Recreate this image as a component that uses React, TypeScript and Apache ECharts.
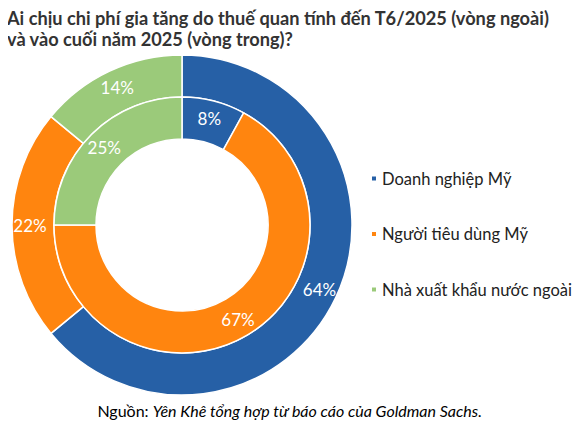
import { useEffect, useRef } from 'react';
import * as echarts from 'echarts';

// Who bears the extra cost of tariffs
const categories = ['Doanh nghiệp Mỹ', 'Người tiêu dùng Mỹ', 'Nhà xuất khẩu nước ngoài'];
const outerValues = [64, 22, 14]; // through June 2025
const innerValues = [8, 67, 25]; // end of 2025
const colors = ['#2660A6', '#FF850F', '#9BCA7A'];

const titleLines = [
  'Ai chịu chi phí gia tăng do thuế quan tính đến T6/2025 (vòng ngoài)',
  'và vào cuối năm 2025 (vòng trong)?',
];

const FONT = 'Lato, "Noto Sans", sans-serif';

export default function App() {
  const chartRef = useRef<HTMLDivElement>(null);

  useEffect(() => {
    if (!chartRef.current) return;
    const chart = echarts.init(chartRef.current, undefined, { renderer: 'svg' });

    const ringData = (values: number[]) =>
      values.map((v, i) => ({
        name: categories[i],
        value: v,
        itemStyle: { color: colors[i] },
      }));

    const ringLabel = {
      show: true,
      position: 'inside' as const,
      color: '#fff',
      fontSize: 17,
      fontFamily: FONT,
      formatter: '{c}%',
    };

    chart.setOption({
      animation: false,
      backgroundColor: '#fff',
      title: {
        text: titleLines.join('\n'),
        left: 2,
        top: 2,
        textStyle: {
          fontFamily: FONT,
          fontSize: 18.2,
          fontWeight: 'bold',
          color: '#333',
          lineHeight: 21,
        },
      },
      legend: {
        orient: 'vertical',
        left: 370,
        top: 170,
        padding: 0,
        icon: 'rect',
        itemWidth: 6,
        itemHeight: 6,
        itemGap: 38.5,
        data: categories,
        textStyle: {
          fontFamily: FONT,
          fontSize: 16.5,
          lineHeight: 17,
          color: '#222',
        },
      },
      series: [
        {
          name: 'T6/2025',
          type: 'pie',
          center: [182, 225],
          radius: [128, 170],
          startAngle: 90,
          clockwise: true,
          silent: true,
          itemStyle: { borderColor: '#fff', borderWidth: 1.5 },
          label: ringLabel,
          labelLine: { show: false },
          data: ringData(outerValues),
        },
        {
          name: 'Cuối 2025',
          type: 'pie',
          center: [182, 225],
          radius: [86, 128],
          startAngle: 90,
          clockwise: true,
          silent: true,
          itemStyle: { borderColor: '#fff', borderWidth: 1.5 },
          label: ringLabel,
          labelLine: { show: false },
          data: ringData(innerValues),
        },
      ],
      graphic: [
        {
          type: 'text',
          left: 'center',
          top: 402,
          style: {
            text: '{n|Nguồn: }{i|Yên Khê tổng hợp từ báo cáo của Goldman Sachs.}',
            rich: {
              n: { fontFamily: FONT, fontSize: 16, color: '#333' },
              i: { fontFamily: FONT, fontSize: 16, color: '#333', fontStyle: 'italic' },
            },
          },
        },
      ],
    });

    return () => chart.dispose();
  }, []);

  return <div ref={chartRef} style={{ width: 580, height: 431, margin: -8 }} />;
}
